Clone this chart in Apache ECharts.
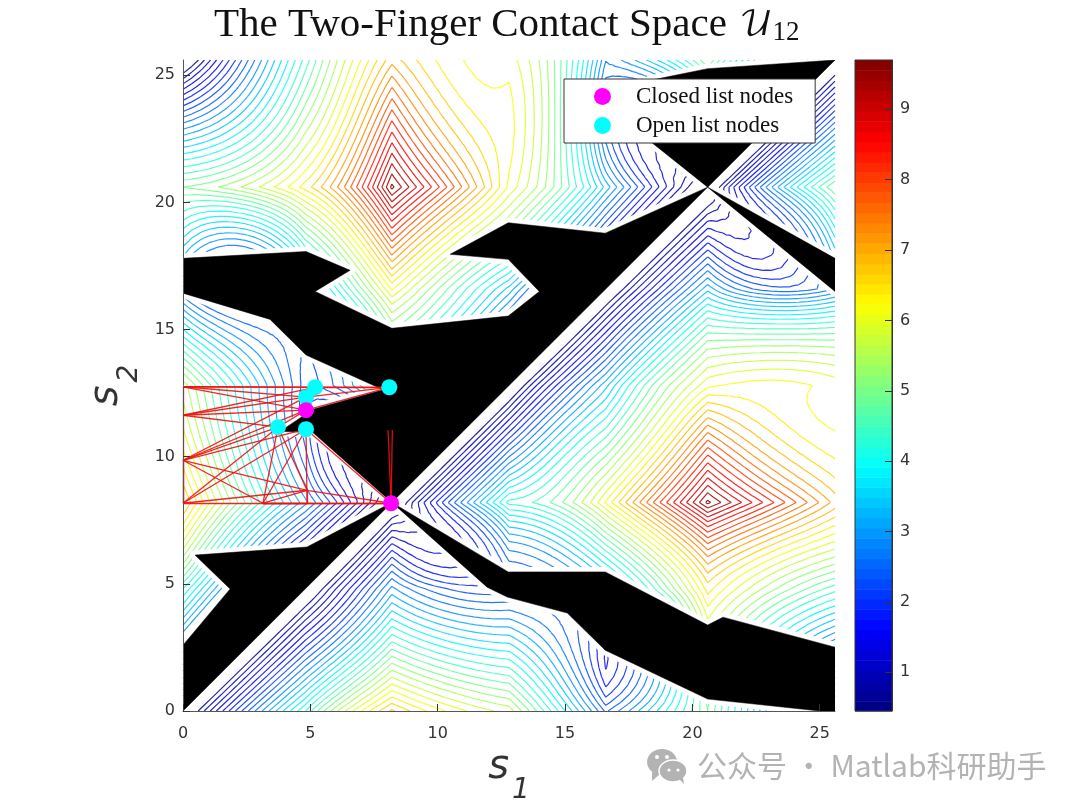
<!DOCTYPE html>
<html><head><meta charset="utf-8">
<style>html,body{margin:0;padding:0;background:#fff}#c{width:1080px;height:810px}</style>
<script src="https://cdn.jsdelivr.net/npm/echarts@6/dist/echarts.min.js"></script>
</head><body><div id="c"></div>
<script>
// ---------- tick labels ----------
const axisTicks = [0, 5, 10, 15, 20, 25];
const barTicks = [1, 2, 3, 4, 5, 6, 7, 8, 9];
// ---------- field: nodes along s and values for s1 >= s2 ----------
const creases = [0, 4.8, 8.2, 12.8, 16.6, 20.6, 25.6];
const nodes = [0, 2.4, 4.8, 6.5, 8.2, 10.5, 12.8, 14.7, 16.6, 18.6, 20.6, 23.1, 25.6];
const row00 = [0, 2.3, 4.3, 5.8, 6.9, 6.1, 5.6, 4.1, 2.4, 3.6, 5.0, 2.7, 0];
const row24 = [0, 2.1, 3.4, 4.8, 4.1, 3.8, 2.8, 1.5, 3.0, 5.5, 3.7, 2.3];
const row48 = [0, 1.5, 3.0, 2.2, 2.1, 2.3, 3.0, 4.6, 6.5, 5.3, 4.4];
const row65 = [0, 1.6, 1.3, 2.8, 3.3, 4.5, 6.0, 7.7, 6.6, 5.8];
const row82 = [0, 2.3, 4.4, 4.9, 6.2, 7.9, 9.7, 8.3, 7.0];
const row105 = [0, 2.2, 3.6, 4.7, 6.2, 7.9, 6.8, 6.25];
const row128 = [0, 1.8, 3.3, 4.9, 6.1, 6.25, 6.05];
const row147 = [0, 1.7, 3.4, 4.9, 4.9, 4.9];
const row166 = [0, 1.7, 3.3, 2.3, 2.7];
const row186 = [0, 1.6, 1.5, 3.6];
const row206 = [0, 2.9, 5.0];
const row231 = [0, 2.5];
const row256 = [0];
const table = [row00, row24, row48, row65, row82, row105, row128, row147, row166, row186, row206, row231, row256];
const levels = [0.60,0.83,1.06,1.29,1.53,1.76,1.99,2.22,2.45,2.68,2.92,3.15,3.38,3.61,3.84,4.07,4.31,4.54,4.77,5.00,5.23,5.46,5.70,5.93,6.16,6.39,6.62,6.85,7.09,7.32,7.55,7.78,8.01,8.24,8.48,8.71,8.94,9.17,9.40,9.63];
const barBands = [0.52,0.66,0.81,0.95,1.10,1.24,1.39,1.53,1.68,1.82,1.97,2.11,2.25,2.40,2.54,2.69,2.83,2.98,3.12,3.27,3.41,3.56,3.70,3.84,3.99,4.13,4.28,4.42,4.57,4.71,4.86,5.00,5.14,5.29,5.43,5.58,5.72,5.87,6.01,6.16,6.30,6.45,6.59,6.73,6.88,7.02,7.17,7.31,7.46,7.60,7.75,7.89,8.03,8.18,8.32,8.47,8.61,8.76,8.90,9.05,9.19,9.34,9.48,9.63];
const barMin = 0.45, barMax = 9.7;
// ---------- obstacles (s1, s2) ----------
const obstacleA = [[0,17.8],[4.83,18.07],[6.56,17.33],[5.19,16.5],[8.2,15.05],[12.77,15.53],[13.99,16.5],[12.77,17.76],[10.49,17.96],[12.77,19.2],[16.58,18.79],[20.6,20.6],[8.2,8.2],[5.11,10.94],[3.82,11.0],[5.11,11.87],[7.86,12.63],[4.83,14.0],[3.42,15.4],[0,16.43]];
const obstacleB = [[20.6,20.6],[25.6,25.6],[20.6,25.26],[18.35,24.8],[18.35,22.4]];
const obstacleC = [[20.6,20.6],[25.6,17.8],[25.6,16.5]];
const obstacleD = [[8.2,8.2],[4.87,6.45],[0.47,6.13],[1.85,4.8],[0,2.59],[0,0]];
const obstacleE = [[8.2,8.2],[12.77,5.47],[16.58,5.47],[20.6,3.38],[21.2,3.69],[25.6,2.51],[25.6,0],[25.0,0],[20.6,0.47],[16.58,2.39],[15.09,3.85],[12.73,4.48],[11.94,4.87]];
const obstacles = [obstacleA, obstacleB, obstacleC, obstacleD, obstacleE];
// ---------- search graph ----------
const graphNodes = {A:[0,12.75],B:[0,11.63],C:[0,9.86],D:[0,8.17],E:[3.14,8.17],F:[4.87,8.17],G:[4.87,8.68],H:[3.73,11.16],I:[4.83,11.08],J:[4.83,11.83],K:[4.83,12.34],L:[5.19,12.73],M:[8.1,12.73],N:[8.17,8.17],O:[8.05,11.05],P:[8.22,11.05]};
const graphEdges = ['AM','AL','AK','AJ','AD','BK','BH','BL','BJ','CH','CI','CK','CG','CE','CJ','DH','DI','DG','DN','EH','EI','EG','EN','FG','FI','HG','HJ','JM','KM','LM','IN','GN','ON','PN','CD','EF'];
const closedNodes = [[4.83,11.83],[8.17,8.17]];
const openNodes = [[3.73,11.16],[4.83,11.08],[4.83,12.34],[5.19,12.73],[8.1,12.73]];

function nodeVal(i, j) { return i >= j ? table[j][i - j] : -table[i][j - i]; }
function patchOf(v) { let p = 0; while (p < 5 && v > creases[p + 1]) p++; return p; }
function weights(a, b, c, v) {
  return [(v - b) * (v - c) / ((a - b) * (a - c)), (v - a) * (v - c) / ((b - a) * (b - c)), (v - a) * (v - b) / ((c - a) * (c - b))];
}
function field(x, y) {
  if (y > x) { const t = x; x = y; y = t; }
  const p = patchOf(x) * 2, q = patchOf(y) * 2;
  const wx = weights(nodes[p], nodes[p + 1], nodes[p + 2], x), wy = weights(nodes[q], nodes[q + 1], nodes[q + 2], y);
  let s = 0;
  for (let a = 0; a < 3; a++) for (let b = 0; b < 3; b++) s += wx[a] * wy[b] * nodeVal(p + a, q + b);
  return s;
}
const samples = [];
for (let p = 0; p < 6; p++) for (let k = 0; k < 14; k++) samples.push(creases[p] + (creases[p + 1] - creases[p]) * k / 14);
samples.push(25.6);
const values = samples.map(y => samples.map(x => field(x, y)));
const segs = levels.map(() => []);
function tri(a, b, c) {
  const lo = Math.min(a[2], b[2], c[2]), hi = Math.max(a[2], b[2], c[2]);
  for (let k = 0; k < levels.length; k++) {
    const L = levels[k];
    if (L < lo || L >= hi) continue;
    const pts = [];
    [[a, b], [b, c], [c, a]].forEach(([u, v]) => {
      if ((u[2] <= L) !== (v[2] <= L)) {
        const t = (L - u[2]) / (v[2] - u[2]);
        pts.push([u[0] + t * (v[0] - u[0]), u[1] + t * (v[1] - u[1])]);
      }
    });
    if (pts.length === 2) segs[k].push({ coords: pts });
  }
}
for (let j = 0; j + 1 < samples.length; j++) for (let i = 0; i + 1 < samples.length; i++) {
  const p00 = [samples[i], samples[j], values[j][i]], p10 = [samples[i + 1], samples[j], values[j][i + 1]];
  const p01 = [samples[i], samples[j + 1], values[j + 1][i]], p11 = [samples[i + 1], samples[j + 1], values[j + 1][i + 1]];
  tri(p00, p10, p11); tri(p00, p11, p01);
}
function jet(t) {
  const c = v => Math.round(255 * Math.max(0, Math.min(1, 1.5 - Math.abs(4 * t - v))));
  return 'rgb(' + c(3) + ',' + c(2) + ',' + c(1) + ')';
}
const colorOf = L => jet((L - barMin) / (barMax - barMin));
const serif = '"Liberation Serif","DejaVu Serif",serif';
const ink = '#333333';

const contourSeries = levels.map((L, k) => ({
  type: 'lines', coordinateSystem: 'cartesian2d', xAxisIndex: 0, yAxisIndex: 0, polyline: false, large: true, largeThreshold: 1,
  silent: true, animation: false, progressive: 0, z: 2, data: segs[k],
  lineStyle: { color: colorOf(L), width: 1.2, opacity: 0.85 }
}));
function polySeries(stroke, sw, z) {
  return {
    type: 'custom', coordinateSystem: 'cartesian2d', xAxisIndex: 0, yAxisIndex: 0, silent: true, animation: false, z, clip: true,
    data: obstacles.map((_, i) => [i]),
    renderItem: (params, api) => ({
      type: 'polygon',
      shape: { points: obstacles[api.value(0)].map(p => api.coord(p)) },
      style: { fill: '#000', stroke, lineWidth: sw, lineJoin: 'round' }
    })
  };
}
const bandData = barBands.map((L, k) => [
  k ? (barBands[k - 1] + L) / 2 : barMin,
  k < barBands.length - 1 ? (barBands[k + 1] + L) / 2 : barMax, L]);
const subRich = { a: { fontFamily: 'DejaVu Sans', fontStyle: 'italic', fontSize: 40, color: ink }, b: { fontFamily: 'DejaVu Sans', fontStyle: 'italic', fontSize: 28, color: ink, verticalAlign: 'bottom', padding: [46, 0, 0, 3] } };

const option = {
  animation: false,
  backgroundColor: '#fff',
  title: {
    text: 'The Two-Finger Contact Space {u|𝒰}{s|12}', left: 209, top: 0,
    textStyle: { fontFamily: serif, fontSize: 41, fontWeight: 'normal', color: '#111',
      rich: { u: { fontFamily: '"DejaVu Math TeX Gyre","DejaVu Serif",serif', fontSize: 34, color: '#111', padding:[0,0,0,2] },
              s: { fontFamily: serif, fontSize: 27, color: '#111', verticalAlign: 'bottom', padding: [10, 0, 0, 0] } } }
  },
  grid: [
    { left: 183, top: 60, width: 652, height: 651, show: false, outerBoundsMode: 'none' },
    { left: 855, top: 60, width: 37, height: 651, show: true, borderColor: '#333', borderWidth: 1, backgroundColor: 'transparent', z: 9, outerBoundsMode: 'none' }
  ],
  xAxis: [
    { type: 'value', gridIndex: 0, min: 0, max: 25.6, z: 10,
      name: '{a|s}{b|1}', nameLocation: 'middle', nameGap: 20,
      nameTextStyle: { rich: subRich },
      axisLine: { lineStyle: { color: '#555', width: 1 } }, splitLine: { show: false },
      axisTick: { inside: true, length: 7, customValues: axisTicks, lineStyle: { color: '#333' } },
      axisLabel: { customValues: axisTicks, fontFamily: 'DejaVu Sans', fontSize: 16, color: ink, margin: 15 } },
    { type: 'value', gridIndex: 1, min: 0, max: 1, show: false }
  ],
  yAxis: [
    { type: 'value', gridIndex: 0, min: 0, max: 25.6, z: 10,
      name: '{a|s}{b|2}', nameLocation: 'middle', nameGap: 38, nameRotate: 90,
      nameTextStyle: { rich: subRich },
      axisLine: { lineStyle: { color: '#555', width: 1 } }, splitLine: { show: false },
      axisTick: { inside: true, length: 7, customValues: axisTicks, lineStyle: { color: '#333' } },
      axisLabel: { customValues: axisTicks, fontFamily: 'DejaVu Sans', fontSize: 16, color: ink, margin: 8 } },
    { type: 'value', gridIndex: 1, min: barMin, max: barMax, position: 'right', z: 10,
      axisLine: { show: true, onZero: false, lineStyle: { color: '#333' } }, splitLine: { show: false },
      axisTick: { inside: true, length: 7, customValues: barTicks, lineStyle: { color: '#333' } },
      axisLabel: { customValues: barTicks, fontFamily: 'DejaVu Sans', fontSize: 16, color: ink, margin: 8 } }
  ],
  legend: {
    show: true, orient: 'vertical', left: 564, top: 79, data: ['Closed list nodes', 'Open list nodes'],
    backgroundColor: '#fff', borderColor: '#333', borderWidth: 1, padding: [6, 22, 6, 30],
    itemWidth: 17, itemHeight: 17, itemGap: 6, z: 20, selectedMode: false,
    textStyle: { fontFamily: serif, fontSize: 23, color: '#111', padding: [0, 0, 0, 20] }
  },
  series: [
    ...contourSeries,
    polySeries('#fff', 10, 3),
    polySeries('#000', 0.5, 4),
    {
      type: 'lines', coordinateSystem: 'cartesian2d', xAxisIndex: 0, yAxisIndex: 0, polyline: false, silent: true, animation: false, z: 5,
      data: graphEdges.map(e => ({ coords: [graphNodes[e[0]], graphNodes[e[1]]] })),
      lineStyle: { color: '#f01010', width: 1.3, opacity: 0.9 }
    },
    { name: 'Closed list nodes', type: 'scatter', xAxisIndex: 0, yAxisIndex: 0, data: closedNodes, symbolSize: 16, z: 7, itemStyle: { color: '#ff00ff', opacity: 1 }, silent: true },
    { name: 'Open list nodes', type: 'scatter', xAxisIndex: 0, yAxisIndex: 0, data: openNodes, symbolSize: 16, z: 6, itemStyle: { color: '#00ffff', opacity: 1 }, silent: true },
    {
      type: 'custom', coordinateSystem: 'cartesian2d', xAxisIndex: 1, yAxisIndex: 1, silent: true, animation: false, z: 2, data: bandData,
      encode: { y: [0, 1] },
      renderItem: (params, api) => {
        const a = api.coord([0, api.value(1)]), b = api.coord([1, api.value(0)]);
        return { type: 'rect', shape: { x: a[0], y: a[1], width: b[0] - a[0], height: b[1] - a[1] + 0.5 }, style: { fill: colorOf(api.value(2)) } };
      }
    }
  ],
  graphic: [
    { type: 'text', left: 697, top: 751, z: 30, style: { text: '公众号 · Matlab科研助手', font: '30px "Noto Sans CJK SC"', fill: '#b3b3b3' } },
    { type: 'ellipse', shape: { cx: 662, cy: 762, rx: 15, ry: 13 }, style: { fill: '#b3b3b3' }, z: 30 },
    { type: 'polygon', shape: { points: [[652, 772], [652, 781], [660, 774]] }, style: { fill: '#b3b3b3' }, z: 30 },
    { type: 'ellipse', shape: { cx: 673, cy: 771, rx: 14, ry: 11 }, style: { fill: '#b3b3b3', stroke: '#fff', lineWidth: 1.5 }, z: 31 },
    { type: 'polygon', shape: { points: [[679, 779], [684, 784], [683, 777]] }, style: { fill: '#b3b3b3' }, z: 31 },
    { type: 'circle', shape: { cx: 657, cy: 757, r: 2 }, style: { fill: '#fff' }, z: 32 },
    { type: 'circle', shape: { cx: 667, cy: 757, r: 2 }, style: { fill: '#fff' }, z: 32 },
    { type: 'circle', shape: { cx: 669, cy: 770, r: 1.6 }, style: { fill: '#fff' }, z: 32 },
    { type: 'circle', shape: { cx: 678, cy: 770, r: 1.6 }, style: { fill: '#fff' }, z: 32 }
  ]
};
echarts.init(document.getElementById('c'), null, { renderer: 'canvas' }).setOption(option);
</script></body></html>
